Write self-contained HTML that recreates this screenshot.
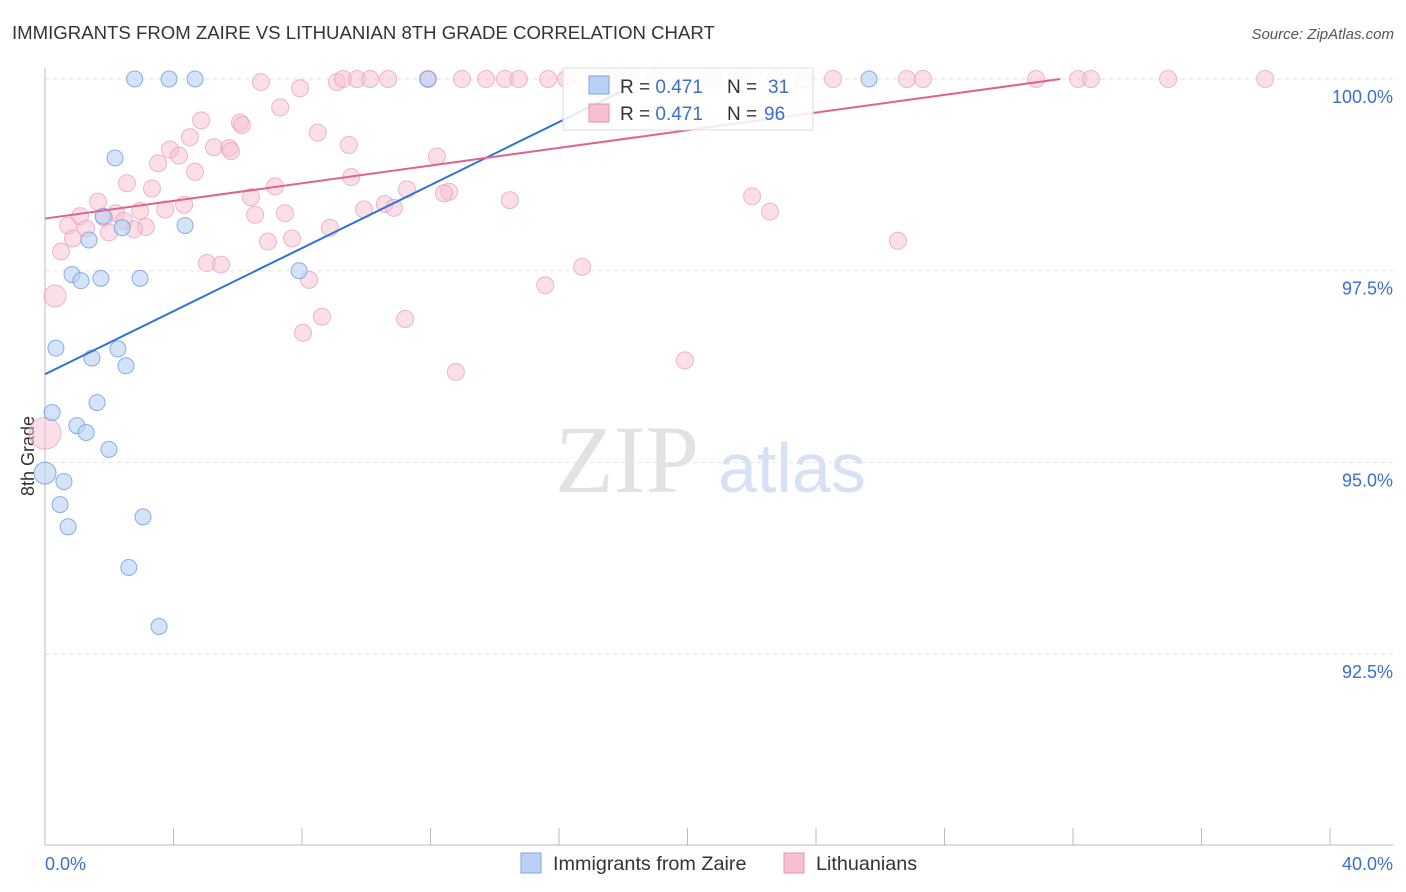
<!DOCTYPE html>
<html><head><meta charset="utf-8"><style>
body{margin:0;background:#fff;font-family:"Liberation Sans",sans-serif}
svg{display:block}
</style></head><body>
<svg id="c" width="1406" height="892">
<text x="12" y="39" font-size="18.6" fill="#333">IMMIGRANTS FROM ZAIRE VS LITHUANIAN 8TH GRADE CORRELATION CHART</text>
<text x="1394" y="39" font-size="15" fill="#555" font-style="italic" text-anchor="end">Source: ZipAtlas.com</text>
<text x="555" y="492" font-size="96" fill="#e2e2e2" font-family="Liberation Serif,serif">ZIP</text>
<text x="718" y="492" font-size="70" fill="#d6e2f3">atlas</text>
<text transform="translate(34,456) rotate(-90)" font-size="18" fill="#333" text-anchor="middle">8th Grade</text>
<g id="grid"></g><g id="pts"></g><g id="lines"></g>
<g id="legend">
<rect x="563" y="68" width="250" height="62" fill="#fff" fill-opacity="0.85" stroke="#ddd"/>
<rect x="589" y="76" width="20" height="18" fill="#b9d1f5" stroke="#7aa5e6"/>
<rect x="589" y="104" width="20" height="18" fill="#f7c0d2" stroke="#e88fae"/>
<text x="620" y="93" font-size="19" fill="#333">R = <tspan fill="#3a6fd0">0.471</tspan><tspan x="727">N = </tspan><tspan x="768" fill="#3a6fd0">31</tspan></text>
<text x="620" y="120" font-size="19" fill="#333">R = <tspan fill="#3a6fd0">0.471</tspan><tspan x="727">N = </tspan><tspan x="764" fill="#3a6fd0">96</tspan></text>
</g>
<g>
<rect x="521" y="853" width="20" height="20" fill="#b9d1f5" stroke="#7aa5e6"/>
<text x="553" y="870" font-size="19.8" fill="#333">Immigrants from Zaire</text>
<rect x="784" y="853" width="20" height="20" fill="#f7c0d2" stroke="#e88fae"/>
<text x="816" y="870" font-size="19.8" fill="#333">Lithuanians</text>
</g>
</svg>
<script>
const yTicks=[100,97.5,95,92.5];
const yTickLabels=["100.0%","97.5%","95.0%","92.5%"];
const xTickLabels=["0.0%","40.0%"];
const zaireX=[2.79,3.86,4.67,11.92,25.65,2.18,4.36,1.81,2.40,1.37,0.84,1.12,1.74,2.96,7.91,0.34,2.27,1.46,2.52,1.62,0.22,0.99,1.28,1.99,0,0.59,0.47,0.72,3.05,2.61,3.55];
const zaireY=[100,100,100,100,100,98.97,98.09,98.21,98.06,97.9,97.45,97.37,97.4,97.4,97.5,96.49,96.48,96.36,96.26,95.78,95.65,95.48,95.39,95.17,94.86,94.75,94.45,94.16,94.29,93.63,92.86];
const lithX=[6.72,7.94,9.09,9.28,9.71,10.12,10.68,11.92,12.98,13.73,14.32,14.75,15.66,16.22,17.4,17.77,18.21,18.99,20.82,21.69,22.75,23.63,24.53,26.83,27.33,30.85,32.16,32.56,34.96,37.98,
7.32,4.86,6.07,6.13,8.49,4.51,9.46,3.89,5.26,5.73,5.79,4.17,12.2,3.52,4.67,9.53,2.55,3.33,7.16,11.27,12.58,12.42,6.41,22.01,1.65,4.33,14.47,3.74,9.93,10.58,10.86,22.57,1.09,2.21,1.84,2.96,6.54,7.47,0.72,2.46,3.14,1.28,2.77,1.99,8.87,0.87,6.94,7.69,26.55,0.5,5.04,5.48,16.72,8.22,15.57,0.31,8.62,11.21,8.03,19.92,12.79,0];
const lithY=[99.96,99.88,99.96,100,100,100,100,100,100,100,100,100,100,100,100,100,100,100,100,100,100,100,100,100,100,100,100,100,100,100,
99.63,99.46,99.43,99.4,99.3,99.24,99.14,99.08,99.11,99.1,99.06,99.0,98.99,98.9,98.79,98.72,98.64,98.57,98.6,98.56,98.53,98.51,98.46,98.47,98.4,98.36,98.42,98.3,98.3,98.37,98.32,98.27,98.21,98.25,98.19,98.28,98.23,98.25,98.09,98.15,98.07,98.05,98.04,98.0,98.06,97.92,97.88,97.92,97.89,97.75,97.6,97.58,97.55,97.38,97.31,97.17,96.9,96.87,96.69,96.33,96.18,95.38];
const zaireLine=[[0,96.15],[18,99.85]];
const lithLine=[[0,98.18],[31.6,100]];
const X=v=>45+v*32.125, Y=v=>79+(100-v)*76.68;
const NS="http://www.w3.org/2000/svg";
function mk(p,t,a){const e=document.createElementNS(NS,t);for(const k in a)e.setAttribute(k,a[k]);p.appendChild(e);return e;}
const grid=document.getElementById('grid');
yTicks.forEach((t,i)=>{
 const l=mk(grid,'line',{x1:45,x2:1393,y1:Y(t),y2:Y(t),stroke:'#e2e2e2','stroke-dasharray':'4,4'});
 
 
 const tx=mk(grid,'text',{x:1393,y:Y(t)+24,'font-size':18,fill:'#3a6fd0','text-anchor':'end'});tx.textContent=yTickLabels[i];
 
 
});
mk(grid,'line',{x1:45,x2:45,y1:68,y2:845,stroke:'#bbb'});
mk(grid,'line',{x1:45,x2:1393,y1:845,y2:845,stroke:'#bbb'});
for(let i=0;i<=10;i++){mk(grid,'line',{x1:X(i*4),x2:X(i*4),y1:828,y2:845,stroke:'#bbb'});}
[[0,'start',45],[40,'end',1393]].forEach((d,i)=>{const t=mk(grid,'text',{x:d[2],y:870,'font-size':18,fill:'#3a6fd0','text-anchor':d[1]});t.textContent=xTickLabels[i];
 
 });
const pts=document.getElementById('pts');
lithX.forEach((v,i)=>{
 let r=8.5;
 if(v===0)r=16; else if(v<0.4&&lithY[i]<97.3&&lithY[i]>97)r=11;
 const c=mk(pts,'circle',{cx:X(v),cy:Y(lithY[i]),r:r,fill:'#f7c0d2','fill-opacity':0.5,stroke:'#e99ab6','stroke-opacity':0.7});
 
 });
zaireX.forEach((v,i)=>{
 const r=v===0?11:8;
 const c=mk(pts,'circle',{cx:X(v),cy:Y(zaireY[i]),r:r,fill:'#b9d1f5','fill-opacity':0.6,stroke:'#6f9be0','stroke-opacity':0.8});
 
 });
const lines=document.getElementById('lines');
const bl=mk(lines,'line',{x1:X(zaireLine[0][0]),y1:Y(zaireLine[0][1]),x2:X(zaireLine[1][0]),y2:Y(zaireLine[1][1]),stroke:'#2f72d6','stroke-width':2});


const pl=mk(lines,'line',{x1:X(lithLine[0][0]),y1:Y(lithLine[0][1]),x2:X(lithLine[1][0]),y2:Y(lithLine[1][1]),stroke:'#e0628f','stroke-width':2});


const svg=document.getElementById('c');svg.appendChild(document.getElementById('legend'));
</script>
</body></html>
